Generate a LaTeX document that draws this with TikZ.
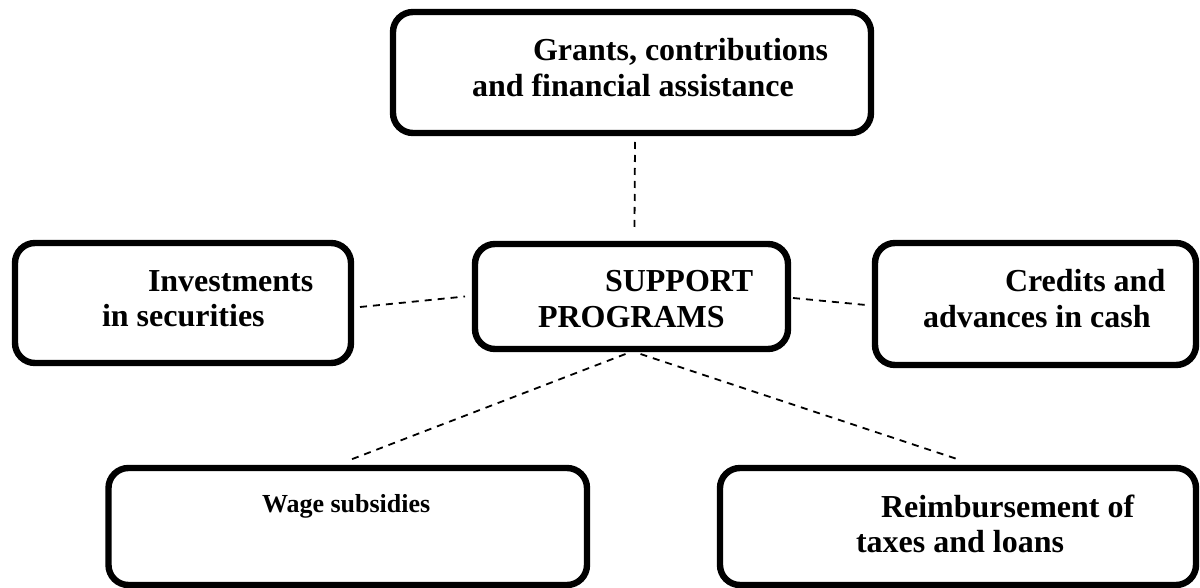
\documentclass[tikz,border=0pt]{standalone}
\usepackage{fontspec}
\setmainfont{Liberation Serif}
\begin{document}
\begin{tikzpicture}[x=0.5pt,y=-0.5pt,
  box/.style={draw=black, line width=3.2pt, rounded corners=10pt, inner sep=0pt, outer sep=0pt, fill=white},
  lbl/.style={anchor=base west, inner sep=0pt, outer sep=0pt, font=\fontsize{16pt}{18pt}\selectfont\bfseries},
  slbl/.style={anchor=base west, inner sep=0pt, outer sep=0pt, font=\fontsize{13pt}{15pt}\selectfont\bfseries},
  link/.style={draw=black, line width=0.9pt, dash pattern=on 3.5pt off 3pt}]
\useasboundingbox (0,0) rectangle (1200,588);
% boxes
\node[box, minimum width=239pt, minimum height=60.5pt] (top) at (632,72.5) {};
\node[box, minimum width=168pt, minimum height=60pt] (left) at (183,303) {};
\node[box, minimum width=156.5pt, minimum height=52.5pt] (center) at (631.5,296.5) {};
\node[box, minimum width=160.5pt, minimum height=61pt] (right) at (1035.5,304) {};
\node[box, minimum width=239.25pt, minimum height=58.5pt] (bl) at (347.75,526.5) {};
\node[box, minimum width=238pt, minimum height=58.5pt] (br) at (958,526.5) {};
% texts
\node[lbl] (top1) at (533,61) {Grants, contributions};
\node[lbl] (top2) at (472,97) {and financial assistance};
\node[lbl] (left1) at (148,292) {Investments};
\node[lbl] (left2) at (102,327) {in securities};
\node[lbl] (cen1) at (605,292) {SUPPORT};
\node[lbl] (cen2) at (538,328) {PROGRAMS};
\node[lbl] (right1) at (1005,292) {Credits and};
\node[lbl] (right2) at (923,328) {advances in cash};
\node[slbl] (bl1) at (262,512) {Wage subsidies};
\node[lbl] (br1) at (881,517) {Reimbursement of};
\node[lbl] (br2) at (856,552) {taxes and loans};
% connectors
\draw[link] ([xshift=1.5pt,yshift=-4.5pt]top.south) -- ([xshift=1.5pt,yshift=8.5pt]center.north);
\draw[link] ([xshift=4.5pt,yshift=-2pt]left.east) -- ([xshift=-5pt]center.west);
\draw[link] ([xshift=2.5pt,yshift=-0.75pt]center.east) -- ([xshift=-4.5pt,yshift=-0.5pt]right.west);
\draw[link] ([xshift=-3pt,yshift=-2.5pt]center.south) -- ([xshift=1pt,yshift=4pt]bl.north);
\draw[link] ([xshift=4.5pt,yshift=-2.5pt]center.south) -- ([xshift=1pt,yshift=4pt]br.north);
\end{tikzpicture}
\end{document}
